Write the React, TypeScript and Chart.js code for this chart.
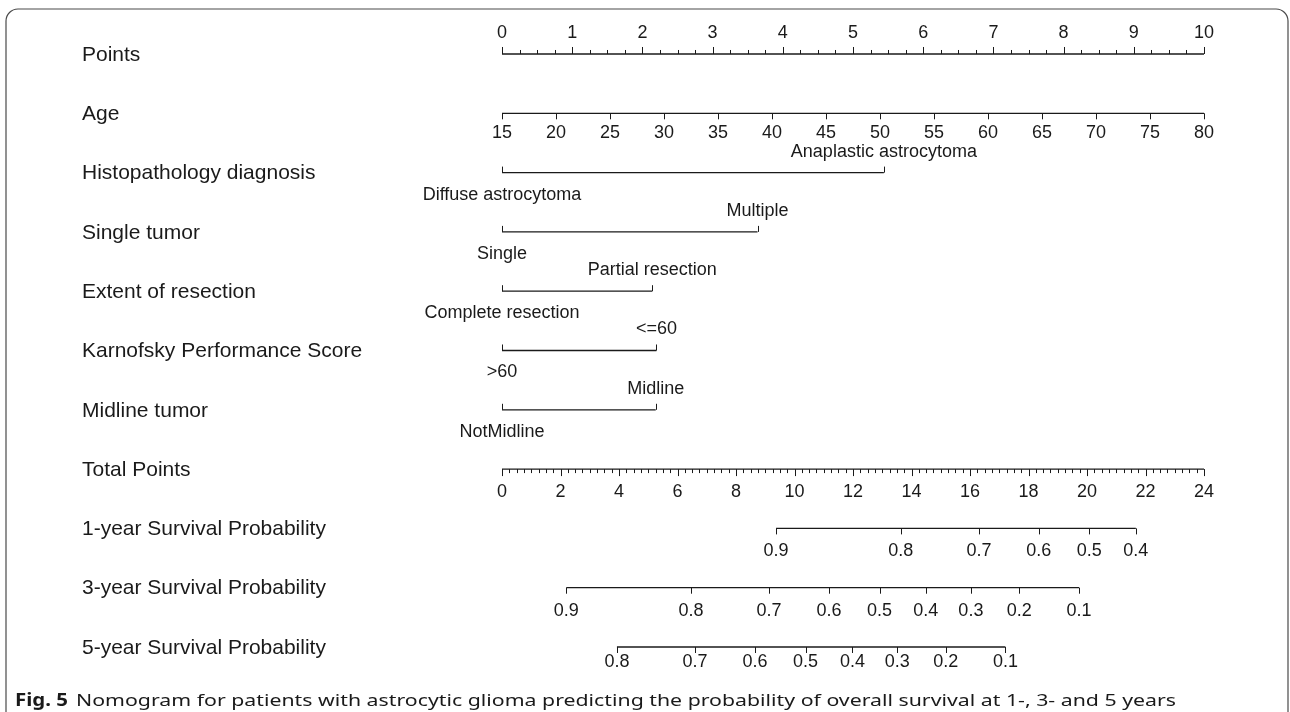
import React, { useEffect, useRef } from "react";
import { Chart, registerables } from "chart.js";

Chart.register(...registerables);

// ---- Data ----
const rowLabels = [
  "Points",
  "Age",
  "Histopathology diagnosis",
  "Single tumor",
  "Extent of resection",
  "Karnofsky Performance Score",
  "Midline tumor",
  "Total Points",
  "1-year Survival Probability",
  "3-year Survival Probability",
  "5-year Survival Probability",
];

const pointsTicks = [0, 1, 2, 3, 4, 5, 6, 7, 8, 9, 10];
const pointsMinorStep = 0.25;
const ageTicks = [15, 20, 25, 30, 35, 40, 45, 50, 55, 60, 65, 70, 75, 80];

const histoLevels = ["Diffuse astrocytoma", "Anaplastic astrocytoma"];
const histoPoints = [0, 5.44];
const singleLevels = ["Single", "Multiple"];
const singlePoints = [0, 3.64];
const resectionLevels = ["Complete resection", "Partial resection"];
const resectionPoints = [0, 2.14];
const kpsLevels = [">60", "<=60"];
const kpsPoints = [0, 2.2];
const midlineLevels = ["NotMidline", "Midline"];
const midlinePoints = [0, 2.19];

const totalTicks = [0, 2, 4, 6, 8, 10, 12, 14, 16, 18, 20, 22, 24];
const totalMinorStep = 0.25;

const surv1Labels = ["0.9", "0.8", "0.7", "0.6", "0.5", "0.4"];
const surv1Points = [9.37, 13.63, 16.31, 18.35, 20.08, 21.67];
const surv3Labels = ["0.9", "0.8", "0.7", "0.6", "0.5", "0.4", "0.3", "0.2", "0.1"];
const surv3Points = [2.2, 6.46, 9.13, 11.18, 12.91, 14.49, 16.03, 17.68, 19.73];
const surv5Labels = ["0.8", "0.7", "0.6", "0.5", "0.4", "0.3", "0.2", "0.1"];
const surv5Points = [3.93, 6.6, 8.65, 10.38, 11.98, 13.51, 15.17, 17.21];

const captionBold = "Fig. 5";
const captionText =
  "Nomogram for patients with astrocytic glioma predicting the probability of overall survival at 1-, 3- and 5 years";

const variables = [
  { row: 2, levels: histoLevels, points: histoPoints },
  { row: 3, levels: singleLevels, points: singlePoints },
  { row: 4, levels: resectionLevels, points: resectionPoints },
  { row: 5, levels: kpsLevels, points: kpsPoints },
  { row: 6, levels: midlineLevels, points: midlinePoints },
];
const survRows = [
  { row: 8, labels: surv1Labels, points: surv1Points, labelOffset: 23 },
  { row: 9, labels: surv3Labels, points: surv3Points, labelOffset: 23 },
  { row: 10, labels: surv5Labels, points: surv5Points, labelOffset: 15 },
];

const INK = "#1a1a1a";
const FONT = "'Liberation Sans', Arial, Helvetica, sans-serif";

const seg = (a: number, b: number, row: number) => [
  { x: a, y: row },
  { x: b, y: row },
];

const nomogramPlugin = {
  id: "nomogram",
  afterDraw(chart: any) {
    const ctx = chart.ctx as CanvasRenderingContext2D;
    const sx = chart.scales.x;
    const sa = chart.scales.age;
    const st = chart.scales.tot;
    const sy = chart.scales.y;
    const ry = (r: number) => sy.getPixelForValue(r);

    ctx.save();
    // frame
    ctx.strokeStyle = "#4a4a4a";
    ctx.lineWidth = 1.2;
    ctx.beginPath();
    ctx.moveTo(6, 712);
    ctx.lineTo(6, 21);
    ctx.arcTo(6, 9, 18, 9, 12);
    ctx.lineTo(1276, 9);
    ctx.arcTo(1288, 9, 1288, 21, 12);
    ctx.lineTo(1288, 712);
    ctx.stroke();

    // row labels
    ctx.fillStyle = INK;
    ctx.font = `21px ${FONT}`;
    ctx.textAlign = "left";
    ctx.textBaseline = "middle";
    rowLabels.forEach((l, i) => ctx.fillText(l, 82, ry(i) + 1));

    ctx.strokeStyle = INK;
    ctx.lineWidth = 1;
    const tick = (x: number, y: number, len: number) => {
      const xx = Math.round(x) + 0.5;
      ctx.beginPath();
      ctx.moveTo(xx, y);
      ctx.lineTo(xx, y + len);
      ctx.stroke();
    };
    ctx.font = `18px ${FONT}`;
    ctx.textAlign = "center";

    // Points axis
    const y0 = ry(0);
    for (let v = 0; v <= 10 + 1e-9; v += pointsMinorStep) {
      const major = Math.abs(v - Math.round(v)) < 1e-6;
      tick(sx.getPixelForValue(v), y0, major ? -7 : -4);
    }
    pointsTicks.forEach((v) => ctx.fillText(String(v), sx.getPixelForValue(v), y0 - 21));

    // Age axis
    const y1 = ry(1);
    ageTicks.forEach((v) => {
      tick(sa.getPixelForValue(v), y1, 6);
      ctx.fillText(String(v), sa.getPixelForValue(v), y1 + 20);
    });

    // variables
    variables.forEach((vr) => {
      const y = ry(vr.row);
      vr.points.forEach((p, i) => {
        const px = sx.getPixelForValue(p);
        tick(px, y, -6);
        ctx.fillText(vr.levels[i], px, i % 2 === 0 ? y + 22 : y - 21);
      });
    });

    // Total points
    const y7 = ry(7);
    for (let v = 0; v <= 24 + 1e-9; v += totalMinorStep) {
      const major = totalTicks.some((t) => Math.abs(t - v) < 1e-6);
      tick(st.getPixelForValue(v), y7, major ? 7 : 4);
    }
    totalTicks.forEach((v) => ctx.fillText(String(v), st.getPixelForValue(v), y7 + 23));

    // survival axes
    survRows.forEach((s) => {
      const y = ry(s.row);
      s.points.forEach((p, i) => {
        const px = st.getPixelForValue(p);
        tick(px, y, 6);
        ctx.fillText(s.labels[i], px, y + s.labelOffset);
      });
    });

    // caption
    ctx.textAlign = "left";
    ctx.textBaseline = "alphabetic";
    const capFont = "'Noto Sans', 'Open Sans', sans-serif";
    ctx.font = `bold 17px ${capFont}`;
    const wb = ctx.measureText(captionBold).width;
    ctx.save();
    ctx.translate(15, 706);
    ctx.scale(53 / wb, 1);
    ctx.fillText(captionBold, 0, 0);
    ctx.restore();
    ctx.font = `17px ${capFont}`;
    const wt = ctx.measureText(captionText).width;
    ctx.save();
    ctx.translate(76, 706);
    ctx.scale(1100 / wt, 1);
    ctx.fillText(captionText, 0, 0);
    ctx.restore();

    ctx.restore();
  },
};

export default function App() {
  const ref = useRef<HTMLCanvasElement | null>(null);
  useEffect(() => {
    document.body.style.margin = "0";
    if (!ref.current) return;
    const lineDs = (data: any[], axis: string) => ({
      data,
      xAxisID: axis,
      yAxisID: "y",
      showLine: true,
      borderColor: INK,
      borderWidth: 1.3,
      pointRadius: 0,
      fill: false,
      clip: false as any,
    });
    const datasets: any[] = [
      lineDs(seg(pointsTicks[0], pointsTicks[pointsTicks.length - 1], 0), "x"),
      lineDs(seg(ageTicks[0], ageTicks[ageTicks.length - 1], 1), "age"),
      ...variables.map((v) => lineDs(seg(v.points[0], v.points[v.points.length - 1], v.row), "x")),
      lineDs(seg(totalTicks[0], totalTicks[totalTicks.length - 1], 7), "tot"),
      ...survRows.map((s) => lineDs(seg(s.points[0], s.points[s.points.length - 1], s.row), "tot")),
    ];
    const chart = new Chart(ref.current, {
      type: "scatter",
      data: { datasets },
      options: {
        responsive: false,
        animation: false,
        events: [],
        layout: { padding: { left: 502, right: 86, top: 0, bottom: 0 } },
        plugins: { legend: { display: false }, tooltip: { enabled: false } },
        scales: {
          x: { type: "linear", min: 0, max: 10, display: false },
          age: { type: "linear", axis: "x", min: 15, max: 80, display: false },
          tot: { type: "linear", axis: "x", min: 0, max: 24, display: false },
          y: { type: "linear", min: -0.9106, max: 11.0963, reverse: true, display: false },
        },
      },
      plugins: [nomogramPlugin],
    });
    return () => chart.destroy();
  }, []);
  return (
    <div style={{ position: "absolute", left: 0, top: 0, width: 1290, height: 712, background: "#fff" }}>
      <canvas ref={ref} width={1290} height={712} style={{ width: 1290, height: 712, display: "block" }} />
    </div>
  );
}
